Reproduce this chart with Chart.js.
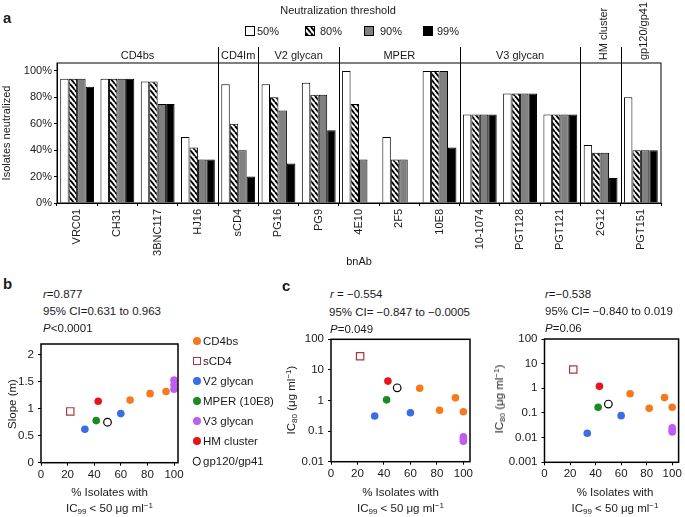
<!DOCTYPE html>
<html><head><meta charset="utf-8">
<script src="https://cdn.jsdelivr.net/npm/chart.js@4.4.1/dist/chart.umd.min.js"></script>
<style>
html,body{margin:0;padding:0;background:#fff}
body{width:685px;height:517px;position:relative;overflow:hidden;font-family:"Liberation Sans",Arial,Helvetica,sans-serif;color:#1a1a1a}
canvas{position:absolute}
.t{position:absolute;white-space:nowrap;font-size:11px;line-height:13px}
.s{font-size:11.5px;line-height:14px}
.c{transform:translate(-50%,-50%)}
.l{transform:translateY(-50%)}
.r{transform:translate(-50%,-50%) rotate(-90deg)}
.b{font-weight:bold;font-size:15px;line-height:17px}
sub{font-size:70%;position:relative;top:0.3em;vertical-align:baseline;line-height:0}
sup{font-size:70%;position:relative;top:-0.45em;vertical-align:baseline;line-height:0}
.sw{position:absolute;width:10px;height:10px;box-sizing:border-box;border:1px solid #000}
.mk{position:absolute;box-sizing:border-box;transform:translate(-50%,-50%)}
</style></head>
<body>
<canvas id="ca" width="685" height="270" style="left:0;top:0"></canvas>
<canvas id="cb" width="230" height="187" style="left:0;top:330px"></canvas>
<canvas id="cc1" width="195" height="187" style="left:290px;top:330px"></canvas>
<canvas id="cc2" width="185" height="187" style="left:500px;top:330px"></canvas>
<script>
// ---------------- DATA ----------------
const bnAbs = ['VRC01','CH31','3BNC117','HJ16','sCD4','PG16','PG9','4E10','2F5','10E8','10-1074','PGT128','PGT121','2G12','PGT151'];
const thresholds = ['50%','80%','90%','99%'];
const neut50 = [94,94,92,50,90,90,91,100,50,100,67,83,67,44,80];
const neut80 = [94,94,92,42,60,80,82,75,33,100,67,83,67,38,40];
const neut90 = [94,94,75,33,40,70,82,33,33,100,67,83,67,38,40];
const neut99 = [88,94,75,33,20,30,55,0,0,42,67,83,67,19,40];
const epitopeGroups = ['CD4bs','CD4Im','V2 glycan','MPER','V3 glycan','HM cluster','gp120/gp41'];
const groupSizes = [4,1,2,3,3,1,1];
const pctTicks = [0,20,40,60,80,100];

const classes = ['CD4bs','sCD4','V2 glycan','MPER (10E8)','V3 glycan','HM cluster','gp120/gp41'];
const xTicks = [0,20,40,60,80,100];
const xTickLabels = ['0','20','40','60','80','100'];
const slopeTicks = [0,0.5,1,1.5,2];
const slopeTickLabels = ['0','0.5','1','1.5','2'];
const ic80Ticks = [0.01,0.1,1,10,100];
const ic80TickLabels = ['0.01','0.1','1','10','100'];
const ic80bTicks = [0.001,0.01,0.1,1,10,100];
const ic80bTickLabels = ['0.001','0.01','0.1','1','10','100'];

// panel b: % isolates with IC99<50 (x) vs slope (y)
const bX_CD4bs = [67,82,94];        const bY_CD4bs = [1.16,1.28,1.32];
const bX_sCD4 = [22];               const bY_sCD4 = [0.95];
const bX_V2 = [33,60];              const bY_V2 = [0.62,0.91];
const bX_MPER = [41.5];             const bY_MPER = [0.78];
const bX_V3 = [100,100,100];        const bY_V3 = [1.36,1.44,1.53];
const bX_HM = [43];                 const bY_HM = [1.14];
const bX_gp = [50];                 const bY_gp = [0.75];

// panel c (left): IC80
const cX_CD4bs = [67,82,94,100];    const cY_CD4bs = [2.5,0.48,1.22,0.43];
const cX_sCD4 = [22];               const cY_sCD4 = [28];
const cX_V2 = [33,60];              const cY_V2 = [0.31,0.40];
const cX_MPER = [42];               const cY_MPER = [1.05];
const cX_V3 = [100,100,100];        const cY_V3 = [0.065,0.055,0.047];
const cX_HM = [43];                 const cY_HM = [4.3];
const cX_gp = [50];                 const cY_gp = [2.6];

// panel c (right): IC80
const dX_CD4bs = [67,82,94,100];    const dY_CD4bs = [0.6,0.155,0.42,0.17];
const dX_sCD4 = [22.5];             const dY_sCD4 = [5.8];
const dX_V2 = [33.5,60];            const dY_V2 = [0.015,0.078];
const dX_MPER = [42];               const dY_MPER = [0.17];
const dX_V3 = [100,100,100];        const dY_V3 = [0.025,0.02,0.017];
const dX_HM = [43];                 const dY_HM = [1.2];
const dX_gp = [50];                 const dY_gp = [0.23];

// ---------------- STYLE ----------------
const FONT = '"Liberation Sans", Arial, Helvetica, sans-serif';
Chart.defaults.font.family = FONT;
Chart.defaults.font.size = 11;
Chart.defaults.color = '#1a1a1a';
Chart.defaults.animation = false;

const COL = {orange:'#f57a1f', sq:'#a8383a', blue:'#3b6de6', green:'#1a8a25', purple:'#c15cf2', red:'#e8141b'};

function addText(html, x, y, cls){
  const d = document.createElement('div');
  d.className = 't ' + (cls||'');
  d.innerHTML = html; d.style.left = x + 'px'; d.style.top = y + 'px';
  document.body.appendChild(d); return d;
}
function fixedTicks(values){ return s => { s.ticks = values.map(v => ({value: v})); }; }
function frame(lw){
  return {id:'frame', afterDraw(chart){
    const a = chart.chartArea, c = chart.ctx;
    c.save(); c.strokeStyle = '#000'; c.lineWidth = lw;
    c.strokeRect(a.left, a.top, a.right - a.left, a.bottom - a.top);
    c.restore();
  }};
}

// hatch pattern
const hatchCanvas = document.createElement('canvas');
hatchCanvas.width = 5; hatchCanvas.height = 6;
(function(){
  const hc = hatchCanvas.getContext('2d');
  hc.fillStyle = '#fff'; hc.fillRect(0,0,5,6);
  hc.strokeStyle = '#000'; hc.lineWidth = 1.9;
  for (let k = -1; k <= 1; k++){ hc.beginPath(); hc.moveTo(k*5, 0); hc.lineTo(k*5 + 5, 6); hc.stroke(); }
})();
const ctxA = document.getElementById('ca').getContext('2d');
const hatch = ctxA.createPattern(hatchCanvas, 'repeat');

// ---------------- PANEL A ----------------
const groupLines = {id:'groupLines', afterDraw(chart){
  const x = chart.scales.x, a = chart.chartArea, c = chart.ctx;
  c.save(); c.strokeStyle = '#000'; c.lineWidth = 1;
  let idx = 0;
  groupSizes.slice(0, -1).forEach(n => {
    idx += n;
    const px = Math.round((x.getPixelForValue(idx - 1) + x.getPixelForValue(idx)) / 2) + 0.5;
    c.beginPath(); c.moveTo(px, 47); c.lineTo(px, a.bottom); c.stroke();
  });
  c.restore();
}};

const barFills = ['#ffffff', hatch, '#808080', '#000000'];
const barSeries = [neut50, neut80, neut90, neut99];
const chartA = new Chart(ctxA, {
  type: 'bar',
  data: {labels: bnAbs, datasets: barSeries.map((d, i) => ({
    label: thresholds[i], data: d, backgroundColor: barFills[i],
    borderColor: '#000', borderWidth: 1, categoryPercentage: 0.84, barPercentage: 1
  }))},
  options: {
    responsive: false, animation: false, devicePixelRatio: 1,
    layout: {padding: {left: 0, top: 63, right: 24, bottom: 1}},
    plugins: {legend: {display: false}, tooltip: {enabled: false}},
    scales: {
      x: {
        grid: {drawOnChartArea: false, tickLength: 3, color: '#000', offset: true},
        border: {display: true, color: '#000'},
        ticks: {minRotation: 90, maxRotation: 90, autoSkip: false, padding: 3, font: {size: 11}},
        title: {display: true, text: 'bnAb', padding: 0, font: {size: 11}},
        afterFit: s => { s.height = 66; s.paddingLeft = 0; s.paddingRight = 0; }
      },
      y: {
        min: 0, max: 106,
        afterBuildTicks: fixedTicks(pctTicks),
        ticks: {callback: v => v + '%', padding: 2, font: {size: 11}},
        grid: {drawOnChartArea: false, tickLength: 3, color: '#000'},
        border: {display: true, color: '#000'},
        title: {display: true, text: 'Isolates neutralized', padding: 0, font: {size: 11}},
        afterFit: s => { s.width = 57; s.paddingTop = 0; s.paddingBottom = 0; }
      }
    }
  },
  plugins: [frame(1), groupLines]
});

// group headings
(function(){
  const x = chartA.scales.x;
  const mc = document.createElement('canvas').getContext('2d');
  mc.font = '11px ' + FONT;
  let start = 0;
  epitopeGroups.forEach((g, gi) => {
    const n = groupSizes[gi];
    const cx = (x.getPixelForValue(start) + x.getPixelForValue(start + n - 1)) / 2;
    const span = n * (x.getPixelForValue(1) - x.getPixelForValue(0));
    const w = mc.measureText(g).width;
    if (w > span - 2) addText(g, cx + 2, 60 - w / 2, 'r');
    else addText(g, cx, 55, 'c');
    start += n;
  });
})();

// legend a
addText('Neutralization threshold', 338, 10, 'c');
const swX = [245, 305, 364, 423];
const swTextX = [257, 320, 380, 437];
thresholds.forEach((t, i) => {
  const d = document.createElement('div');
  d.className = 'sw';
  d.style.left = swX[i] + 'px'; d.style.top = '26px';
  if (i === 1) d.style.backgroundImage = 'url(' + hatchCanvas.toDataURL() + ')';
  else d.style.background = barFills[i];
  document.body.appendChild(d);
  addText(t, swTextX[i], 31, 'l');
});
addText('a', 3, 17, 'l b');

// ---------------- SCATTER PANELS ----------------
function pts(xs, ys){ return xs.map((x, i) => ({x: x, y: ys[i]})); }
function filled(xs, ys, color){
  return {data: pts(xs, ys), pointStyle: 'circle', pointRadius: 3.8,
          pointBackgroundColor: color, pointBorderColor: color, pointBorderWidth: 0, showLine: false};
}
function square(xs, ys){
  return {data: pts(xs, ys), pointStyle: 'rect', pointRadius: 5.2,
          pointBackgroundColor: 'rgba(255,255,255,0)', pointBorderColor: COL.sq, pointBorderWidth: 1.2, showLine: false};
}
function open(xs, ys){
  return {data: pts(xs, ys), pointStyle: 'circle', pointRadius: 3.8,
          pointBackgroundColor: '#fff', pointBorderColor: '#000', pointBorderWidth: 1.2, showLine: false};
}

function scatter(id, cfg){
  return new Chart(document.getElementById(id), {
    type: 'scatter',
    data: {datasets: cfg.sets},
    options: {
      responsive: false, animation: false, devicePixelRatio: 1,
      layout: {padding: {left: 0, top: cfg.T, right: cfg.w - cfg.R, bottom: 0}},
      plugins: {legend: {display: false}, tooltip: {enabled: false}},
      scales: {
        x: {type: 'linear', min: 0, max: cfg.xMax,
            afterBuildTicks: fixedTicks(xTicks),
            ticks: {callback: (v, i) => xTickLabels[i], padding: 2, autoSkip: false, maxRotation: 0, font: {size: 11.5}},
            grid: {drawOnChartArea: false, tickLength: 3, color: '#000'},
            border: {display: false},
            afterFit: s => { s.height = cfg.h - cfg.B; s.paddingLeft = 0; s.paddingRight = 0; }},
        y: {type: cfg.yType, min: cfg.yMin, max: cfg.yMax,
            afterBuildTicks: fixedTicks(cfg.yTicks),
            ticks: {callback: (v, i) => cfg.yLabels[i], padding: 4, autoSkip: false, font: {size: 11.5}},
            grid: {drawOnChartArea: false, tickLength: 3, color: '#000'},
            border: {display: false},
            afterFit: s => { s.width = cfg.L; s.paddingTop = 0; s.paddingBottom = 0; }}
      }
    },
    plugins: [frame(1.5)]
  });
}

scatter('cb', {w: 230, h: 187, L: 41, T: 14, R: 178, B: 132.7, xMax: 103,
  yType: 'linear', yMin: 0, yMax: 2.2, yTicks: slopeTicks, yLabels: slopeTickLabels,
  sets: [filled(bX_CD4bs, bY_CD4bs, COL.orange), square(bX_sCD4, bY_sCD4), filled(bX_V2, bY_V2, COL.blue),
         filled(bX_MPER, bY_MPER, COL.green), filled(bX_V3, bY_V3, COL.purple), filled(bX_HM, bY_HM, COL.red), open(bX_gp, bY_gp)]});

scatter('cc1', {w: 195, h: 187, L: 41, T: 9.3, R: 180, B: 131.7, xMax: 105,
  yType: 'logarithmic', yMin: 0.01, yMax: 100, yTicks: ic80Ticks, yLabels: ic80TickLabels,
  sets: [filled(cX_CD4bs, cY_CD4bs, COL.orange), square(cX_sCD4, cY_sCD4), filled(cX_V2, cY_V2, COL.blue),
         filled(cX_MPER, cY_MPER, COL.green), filled(cX_V3, cY_V3, COL.purple), filled(cX_HM, cY_HM, COL.red), open(cX_gp, cY_gp)]});

scatter('cc2', {w: 185, h: 187, L: 44.5, T: 9, R: 181.5, B: 132.3, xMax: 105,
  yType: 'logarithmic', yMin: 0.001, yMax: 100, yTicks: ic80bTicks, yLabels: ic80bTickLabels,
  sets: [filled(dX_CD4bs, dY_CD4bs, COL.orange), square(dX_sCD4, dY_sCD4), filled(dX_V2, dY_V2, COL.blue),
         filled(dX_MPER, dY_MPER, COL.green), filled(dX_V3, dY_V3, COL.purple), filled(dX_HM, dY_HM, COL.red), open(dX_gp, dY_gp)]});

// panel b texts
addText('b', 3, 283, 'l b');
addText('<i>r</i>=0.877', 43, 293.5, 'l s');
addText('95% CI=0.631 to 0.963', 43, 311, 'l s');
addText('<i>P</i>&lt;0.0001', 43, 327.5, 'l s');
addText('Slope (m)', 12, 404, 'r s');
const xTitle = '% Isolates with<br>IC<sub>99</sub> &lt; 50 μg ml<sup>−1</sup>';
[109.5, 400.5, 615].forEach(cx => {
  const d = addText(xTitle, cx, 500, 'c s');
  d.style.textAlign = 'center'; d.style.lineHeight = '15.5px';
});

// panel b legend
const legendColors = [COL.orange, null, COL.blue, COL.green, COL.purple, COL.red, null];
classes.forEach((name, i) => {
  const y = 340.5 + 20.1 * i;
  const m = document.createElement('div');
  m.className = 'mk';
  m.style.left = '196.5px'; m.style.top = y + 'px';
  if (i === 1) { m.style.width = '8px'; m.style.height = '8px'; m.style.border = '1.2px solid ' + COL.sq; }
  else if (i === 6) { m.style.width = '8.5px'; m.style.height = '8.5px'; m.style.border = '1.2px solid #000'; m.style.borderRadius = '50%'; }
  else { m.style.width = '8px'; m.style.height = '8px'; m.style.borderRadius = '50%'; m.style.background = legendColors[i]; }
  document.body.appendChild(m);
  addText(name, 203, y, 'l s');
});

// panel c texts
addText('c', 282, 285, 'l b');
addText('<i>r</i> = −0.554', 330, 294, 'l s');
addText('95% CI= −0.847 to −0.0005', 329, 311.5, 'l s');
addText('<i>P</i>=0.049', 330, 329, 'l s');
addText('<i>r</i>=−0.538', 545, 293.5, 'l s');
addText('95% CI= −0.840 to 0.019', 545, 311, 'l s');
addText('<i>P</i>=0.06', 545, 328, 'l s');
const yTitleC = 'IC<sub>80</sub> (μg ml<sup>−1</sup>)';
addText(yTitleC, 291, 400, 'r s');
addText(yTitleC, 499, 399, 'r s');
</script>
</body></html>
